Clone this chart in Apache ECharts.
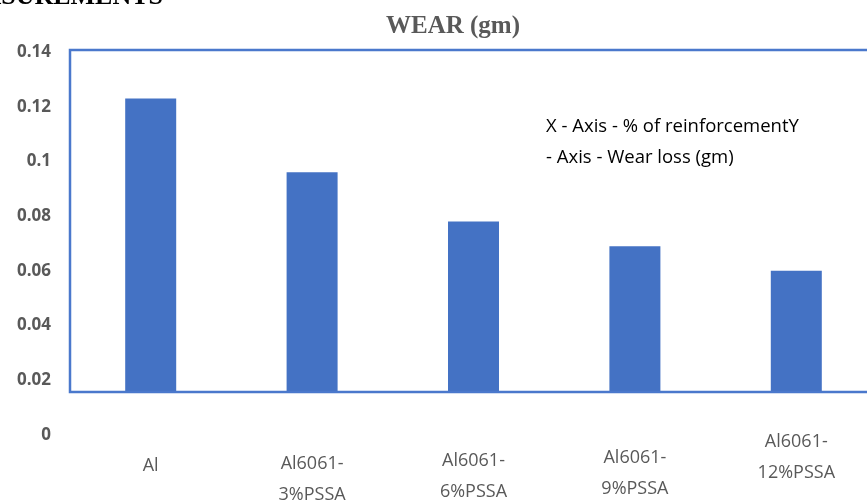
<!DOCTYPE html>
<html>
<head>
<meta charset="utf-8">
<script src="https://cdn.jsdelivr.net/npm/echarts@6/dist/echarts.min.js"></script>
<style>
  html, body { margin: 0; padding: 0; background: #fff; }
  #chart { width: 867px; height: 500px; }
</style>
</head>
<body>
<div id="chart"></div>
<script>
// Wear loss per specimen
const categories = ['Al', 'Al6061-\n3%PSSA', 'Al6061-\n6%PSSA', 'Al6061-\n9%PSSA', 'Al6061-\n12%PSSA'];
const wearLoss = [0.123, 0.096, 0.078, 0.069, 0.060];
const yTicks = [0, 0.02, 0.04, 0.06, 0.08, 0.1, 0.12, 0.14];
// extra drop of each category label below the axis
const labelDrop = [24, 22, 19, 16, 0];

const chart = echarts.init(document.getElementById('chart'));
chart.setOption({
  animation: false,
  title: {
    text: 'WEAR (gm)',
    left: 448,
    textAlign: 'center',
    top: 9,
    textStyle: { fontFamily: 'Liberation Serif', fontWeight: 'bold', fontSize: 25, color: '#595959' }
  },
  grid: { left: 70, top: 52, width: 807, bottom: 65, containLabel: false, outerBoundsMode: 'none' },
  xAxis: {
    type: 'category',
    data: categories.map((c, i) => ({ value: c, textStyle: { padding: [labelDrop[i], 0, 0, 0] } })),
    z: 10,
    axisLine: { show: false },
    axisTick: { show: false },
    axisLabel: {
      margin: -9,
      fontFamily: 'Open Sans',
      fontSize: 18,
      lineHeight: 31,
      color: '#595959',
      interval: 0
    }
  },
  yAxis: {
    type: 'value',
    min: 0,
    max: 0.14,
    interval: 0.02,
    z: 10,
    splitLine: { show: false },
    axisLine: { show: false },
    axisTick: { show: false },
    axisLabel: {
      margin: 19,
      fontFamily: 'Open Sans',
      fontWeight: 'bold',
      fontSize: 17,
      color: '#595959',
      formatter: v => {
        const t = yTicks.find(k => Math.abs(k - v) < 1e-9);
        return t === undefined ? '' : String(t);
      }
    }
  },
  series: [{
    type: 'bar',
    data: wearLoss,
    barWidth: 51,
    z: 2,
    itemStyle: { color: '#4472C4' }
  }],
  graphic: [
    {
      type: 'rect',
      z: 5,
      shape: { x: 71, y: 393, width: 800, height: 45 },
      style: { fill: '#ffffff' }
    },
    {
      type: 'rect',
      z: 6,
      shape: { x: 70, y: 50, width: 820, height: 342 },
      style: { fill: 'none', stroke: '#4a78cc', lineWidth: 2.5 }
    },
    {
      type: 'text',
      z: 7,
      left: 546,
      top: 111,
      style: {
        text: 'X - Axis - % of reinforcementY\n- Axis - Wear loss (gm)',
        fontFamily: 'Open Sans',
        fontSize: 18.5,
        lineHeight: 31,
        fill: '#000000'
      }
    },
    {
      type: 'text',
      z: 7,
      right: 704,
      top: -16,
      style: {
        text: 'MEASUREMENTS',
        fontFamily: 'Liberation Serif',
        fontWeight: 'bold',
        fontSize: 26,
        fill: '#000000'
      }
    }
  ]
});
</script>
</body>
</html>
